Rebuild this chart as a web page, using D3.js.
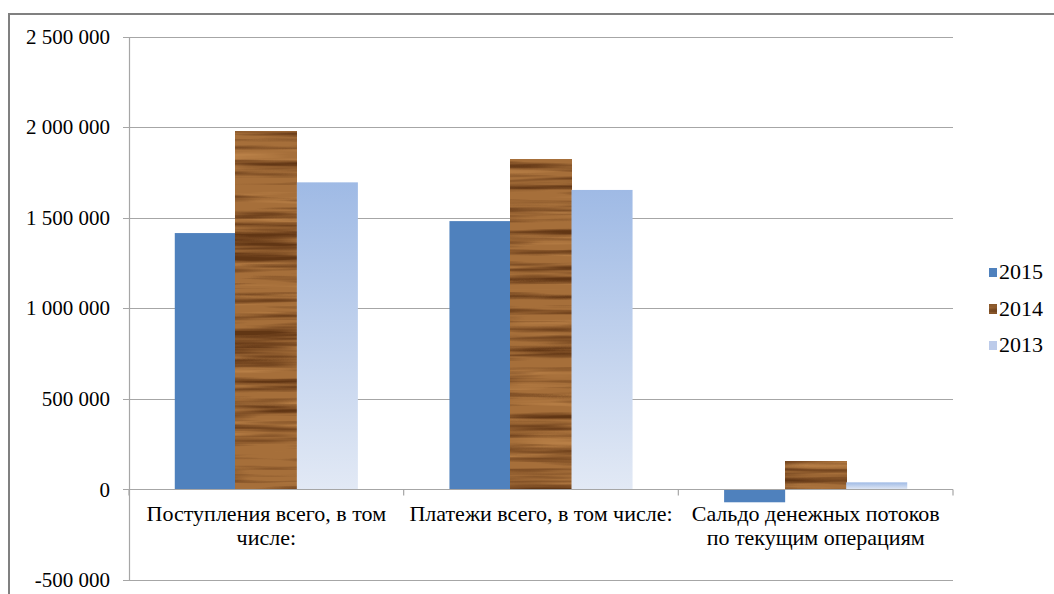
<!DOCTYPE html>
<html>
<head>
<meta charset="utf-8">
<script src="https://cdn.jsdelivr.net/npm/d3@7"></script>
<style>
  html, body { margin: 0; padding: 0; background: #fff; }
  svg { display: block; }
</style>
</head>
<body>
<script>
// Cash flow figures by category and year
const categories = [
  ["Поступления всего, в том", "числе:"],
  ["Платежи всего, в том числе:"],
  ["Сальдо денежных потоков", "по текущим операциям"]
];
const seriesNames = ["2015", "2014", "2013"];
const values2015 = [1415000, 1481000, -71000];
const values2014 = [1974000, 1822000, 153000];
const values2013 = [1695000, 1653000, 39000];
const yTicks = [-500000, 0, 500000, 1000000, 1500000, 2000000, 2500000];

const W = 1054, H = 594;
const plot = { left: 129, right: 953, top: 36.5, bottom: 580 };
const FONT = "'Liberation Serif', 'Times New Roman', 'DejaVu Serif', serif";

const svg = d3.select("body").append("svg").attr("width", W).attr("height", H)
  .attr("font-family", FONT);
const defs = svg.append("defs");

// 2013: pale blue fading downward
const grad = defs.append("linearGradient").attr("id", "fade13")
  .attr("x1", 0).attr("y1", 0).attr("x2", 0).attr("y2", 1);
grad.append("stop").attr("offset", "0%").attr("stop-color", "#9fbae5");
grad.append("stop").attr("offset", "100%").attr("stop-color", "#e2e9f5");

// 2014: wood grain from horizontally stretched noise
const wood = defs.append("filter").attr("id", "wood")
  .attr("filterUnits", "objectBoundingBox")
  .attr("x", 0).attr("y", 0).attr("width", 1).attr("height", 1)
  .attr("color-interpolation-filters", "sRGB");
wood.append("feTurbulence").attr("type", "fractalNoise")
  .attr("baseFrequency", "0.006 0.13").attr("numOctaves", 3).attr("seed", 11)
  .attr("result", "noise");
wood.append("feColorMatrix").attr("in", "noise").attr("type", "matrix")
  .attr("values", [
    "0 0 0 0 0.38",
    "0 0 0 0 0.21",
    "0 0 0 0 0.08",
    "2.8 0 0 0 -1.2"
  ].join(" ")).attr("result", "dark");
wood.append("feColorMatrix").attr("in", "noise").attr("type", "matrix")
  .attr("values", [
    "0 0 0 0 0.80",
    "0 0 0 0 0.57",
    "0 0 0 0 0.33",
    "0 -2.2 0 0 0.95"
  ].join(" ")).attr("result", "light");
wood.append("feFlood").attr("flood-color", "#a66f3a").attr("result", "base");
wood.append("feMerge").selectAll("feMergeNode")
  .data(["base", "light", "dark"]).join("feMergeNode").attr("in", d => d);

const fills = { "2015": "#4f81bd", "2014": "#a66f3a", "2013": "url(#fade13)" };

// Outer frame
svg.append("line").attr("x1", 9).attr("x2", W).attr("y1", 14).attr("y2", 14)
  .attr("stroke", "#808080").attr("stroke-width", 2);
svg.append("line").attr("x1", 9).attr("x2", 9).attr("y1", 13).attr("y2", H)
  .attr("stroke", "#808080").attr("stroke-width", 2);

const y = d3.scaleLinear().domain([-500000, 2500000]).range([plot.bottom, plot.top]);
const x0 = d3.scaleBand().domain(d3.range(categories.length))
  .range([plot.left, plot.right]).paddingInner(0).paddingOuter(0);
const x1 = d3.scaleBand().domain(seriesNames)
  .range([0, x0.bandwidth()]).paddingOuter(0.75).paddingInner(0);

const fmt = v => d3.format(",")(v).replace(/,/g, " ").replace("−", "-");

// Gridlines
svg.append("g").selectAll("line").data(yTicks).join("line")
  .attr("x1", plot.left - 6).attr("x2", plot.right)
  .attr("y1", d => Math.round(y(d)) + 0.5).attr("y2", d => Math.round(y(d)) + 0.5)
  .attr("stroke", "#a6a6a6").attr("stroke-width", 1.2);

// Y axis
const yAxis = d3.axisLeft(y).tickValues(yTicks).tickSize(0).tickPadding(19).tickFormat(fmt);
const gy = svg.append("g").attr("transform", `translate(${plot.left},0)`).call(yAxis)
  .attr("font-family", FONT).attr("font-size", 21);
gy.select(".domain").attr("stroke", "#a6a6a6").attr("stroke-width", 1.2);
gy.selectAll("text").attr("fill", "#000").attr("dy", "0.32em");

// Bars
const series = [
  { name: "2015", values: values2015 },
  { name: "2014", values: values2014 },
  { name: "2013", values: values2013 }
];
const bars = svg.append("g");
series.forEach(s => {
  s.values.forEach((v, i) => {
    bars.append("rect")
      .attr("x", x0(i) + x1(s.name))
      .attr("y", y(Math.max(0, v)))
      .attr("width", x1.bandwidth())
      .attr("height", Math.abs(y(v) - y(0)))
      .attr("fill", fills[s.name])
      .attr("filter", s.name === "2014" ? "url(#wood)" : null);
  });
});

// Category axis along zero
const zy = Math.round(y(0)) + 0.5;
svg.append("line").attr("x1", plot.left).attr("x2", plot.right).attr("y1", zy).attr("y2", zy)
  .attr("stroke", "#a6a6a6").attr("stroke-width", 1.2);
const catTicks = d3.range(categories.length + 1).map(i => plot.left + i * x0.step());
svg.append("g").selectAll("line").data(catTicks).join("line")
  .attr("x1", d => d).attr("x2", d => d).attr("y1", zy).attr("y2", zy + 6)
  .attr("stroke", "#a6a6a6").attr("stroke-width", 1.2);

// Category labels
const labels = svg.append("g").attr("font-size", 22);
categories.forEach((lines, i) => {
  const t = labels.append("text").attr("text-anchor", "middle").attr("fill", "#000");
  lines.forEach((ln, j) => {
    t.append("tspan").attr("x", x0(i) + x0.bandwidth() / 2).attr("y", 521 + j * 24).text(ln);
  });
});

// Legend
const leg = svg.append("g").attr("font-size", 22);
const legY = d3.scalePoint().domain(seriesNames).range([272, 345]);
seriesNames.forEach(n => {
  const g = leg.append("g").attr("transform", `translate(989,${legY(n)})`);
  g.append("rect").attr("x", 0).attr("y", -4).attr("width", 8).attr("height", 9)
    .attr("fill", n === "2013" ? "#bccbea" : fills[n])
    .attr("filter", n === "2014" ? "url(#wood)" : null);
  g.append("text").attr("x", 10).attr("y", 7).attr("fill", "#000").text(n);
});
</script>
</body>
</html>
